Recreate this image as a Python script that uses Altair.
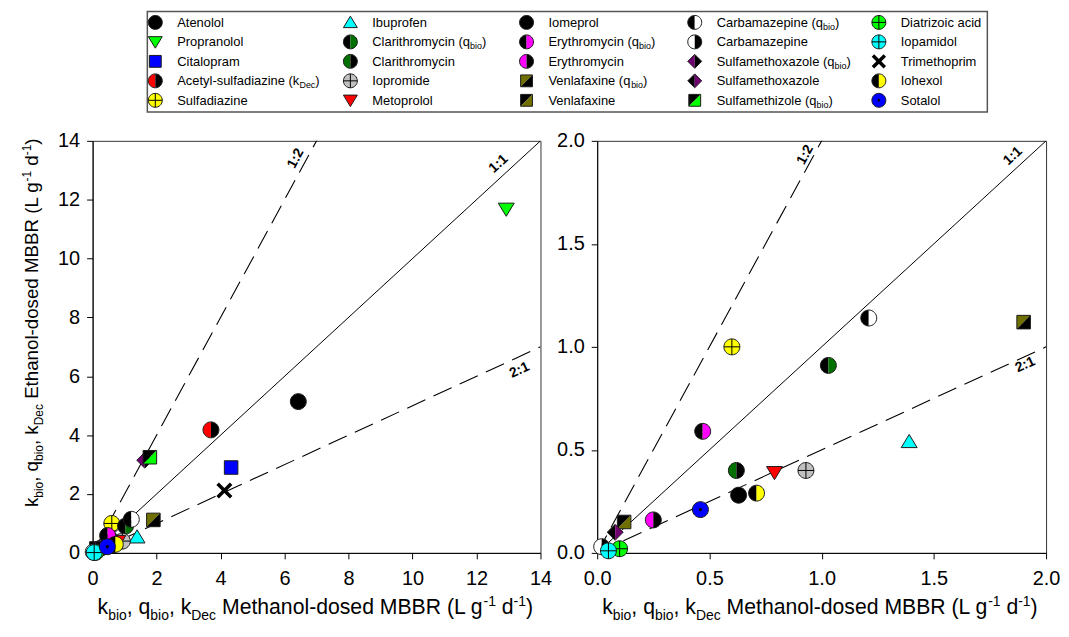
import math
import altair as alt
import pandas as pd

# ---------------- data ----------------
compounds = [
    "Atenolol", "Propranolol", "Citalopram", "Acetyl-sulfadiazine (k_Dec)", "Sulfadiazine",
    "Ibuprofen", "Clarithromycin (q_bio)", "Clarithromycin", "Iopromide", "Metoprolol",
    "Iomeprol", "Erythromycin (q_bio)", "Erythromycin", "Venlafaxine (q_bio)", "Venlafaxine",
    "Carbamazepine (q_bio)", "Carbamazepine", "Sulfamethoxazole (q_bio)", "Sulfamethoxazole",
    "Sulfamethizole (q_bio)",
    "Diatrizoic acid", "Iopamidol", "Trimethoprim", "Iohexol", "Sotalol",
]
methanol = [6.43, 12.93, 4.33, 3.70, 0.60,
            1.39, 1.03, 0.62, 0.93, 0.79,
            0.63, 0.47, 0.25, 1.90, 0.12,
            1.21, 0.02, 1.63, 0.08, 1.79,
            0.10, 0.05, 4.12, 0.71, 0.46]
ethanol = [5.14, 11.68, 2.90, 4.18, 1.00,
           0.54, 0.91, 0.40, 0.40, 0.39,
           0.28, 0.59, 0.16, 1.12, 0.15,
           1.14, 0.03, 3.15, 0.10, 3.25,
           0.02, 0.01, 2.12, 0.29, 0.21]

ratios = [2.0, 1.0, 0.5]
ratio_names = ["1:2", "1:1", "2:1"]
label_x_left = [6.35, 12.69, 13.34]
label_y_left = [13.40, 13.22, 6.21]
label_x_right = [0.927, 1.852, 1.907]
label_y_right = [1.932, 1.926, 0.913]

left_ticks = [0, 2, 4, 6, 8, 10, 12, 14]
right_ticks = [0.0, 0.5, 1.0, 1.5, 2.0]

# ---------------- styles ----------------
BLACK = "black"
GREEN = "#00FF00"
BLUE = "#0000FF"
RED = "#FF0000"
YELLOW = "#FFFF00"
CYAN = "#00FFFF"
DKGREEN = "#007000"
GRAY = "#C0C0C0"
MAGENTA = "#FF00FF"
OLIVE = "#707000"
PURPLE = "#700070"
WHITE = "#FFFFFF"

marker_style = [
    ("circle", BLACK), ("tri_down", GREEN), ("square", BLUE), ("half", RED, BLACK), ("cross", YELLOW),
    ("tri_up", CYAN), ("half", BLACK, DKGREEN), ("half", DKGREEN, BLACK), ("cross", GRAY), ("tri_down", RED),
    ("circle", BLACK), ("half", BLACK, MAGENTA), ("half", MAGENTA, BLACK), ("sq", OLIVE, BLACK), ("sq", BLACK, OLIVE),
    ("half", BLACK, WHITE), ("half", WHITE, BLACK), ("dia", PURPLE, BLACK), ("dia", BLACK, PURPLE), ("sq", BLACK, GREEN),
    ("cross", GREEN), ("cross", CYAN), ("xmark",), ("half", BLACK, YELLOW), ("dot", BLUE),
]

CIRCLE = "M-1,0A1,1 0 1,1 1,0A1,1 0 1,1 -1,0Z"
LEFT = "M0,-1A1,1 0 0,0 0,1Z"
RIGHT = "M0,-1A1,1 0 0,1 0,1Z"
CROSS = "M-1,0L1,0M0,-1L0,1"
SQUARE = "M-0.85,-0.85L0.85,-0.85L0.85,0.85L-0.85,0.85Z"
SQ_TL = "M-0.85,-0.85L0.85,-0.85L-0.85,0.85Z"
SQ_BR = "M0.85,-0.85L0.85,0.85L-0.85,0.85Z"
DIAMOND = "M0,-1L1,0L0,1L-1,0Z"
DIA_L = "M0,-1L-1,0L0,1Z"
DIA_R = "M0,-1L1,0L0,1Z"
TRI_DOWN = "M-1,-0.75L1,-0.75L0,0.9Z"
TRI_UP = "M-1,0.75L1,0.75L0,-0.9Z"
XMARK = "M-0.85,-0.85L0.85,0.85M-0.85,0.85L0.85,-0.85"
DOT = "M-0.2,0A0.2,0.2 0 1,1 0.2,0A0.2,0.2 0 1,1 -0.2,0Z"
OUT = "#1a1a1a"
NONE = "transparent"


def pieces(style):
    kind = style[0]
    if kind == "circle":
        return [(CIRCLE, style[1], OUT, 1)]
    if kind == "square":
        return [(SQUARE, style[1], OUT, 1)]
    if kind == "tri_down":
        return [(TRI_DOWN, style[1], OUT, 1)]
    if kind == "tri_up":
        return [(TRI_UP, style[1], OUT, 1)]
    if kind == "half":
        return [(LEFT, style[1], NONE, 0), (RIGHT, style[2], NONE, 0), (CIRCLE, NONE, OUT, 1)]
    if kind == "sq":
        return [(SQ_TL, style[1], NONE, 0), (SQ_BR, style[2], NONE, 0), (SQUARE, NONE, OUT, 1)]
    if kind == "dia":
        return [(DIA_L, style[1], NONE, 0), (DIA_R, style[2], NONE, 0), (DIAMOND, NONE, OUT, 1)]
    if kind == "cross":
        return [(CIRCLE, style[1], OUT, 1), (CROSS, NONE, BLACK, 1)]
    if kind == "dot":
        return [(CIRCLE, style[1], OUT, 1), (DOT, BLACK, NONE, 0)]
    if kind == "xmark":
        return [(XMARK, NONE, BLACK, 3.5)]
    return []


rows = []
for i, (name, xv, yv, st) in enumerate(zip(compounds, methanol, ethanol, marker_style)):
    for j, (path, fill, stroke, sw) in enumerate(pieces(st)):
        rows.append(dict(name=name, x=xv, y=yv, order=i * 10 + j, path=path, fill=fill,
                         stroke=stroke, sw=sw, col=i // 5, row=i % 5))
df = pd.DataFrame(rows)

# ---------------- text helpers ----------------
FONT = "Liberation Sans"
AW = {' ': 278, ',': 278, '-': 333, '(': 333, ')': 333, '.': 278, ':': 278,
      'a': 556, 'b': 556, 'c': 500, 'd': 556, 'e': 556, 'f': 278, 'g': 556, 'h': 556, 'i': 222,
      'j': 222, 'k': 500, 'l': 222, 'm': 833, 'n': 556, 'o': 556, 'p': 556, 'q': 556, 'r': 333,
      's': 500, 't': 278, 'u': 556, 'v': 500, 'w': 722, 'x': 500, 'y': 500, 'z': 500,
      'A': 667, 'B': 667, 'C': 722, 'D': 722, 'E': 667, 'F': 611, 'G': 778, 'H': 722, 'I': 278,
      'J': 500, 'K': 667, 'L': 556, 'M': 833, 'N': 722, 'O': 778, 'P': 667, 'Q': 778, 'R': 722,
      'S': 667, 'T': 611, 'U': 722, 'V': 667, 'W': 944, 'X': 667, 'Y': 667, 'Z': 611}


def tw(s, size):
    return sum(AW.get(c, 556) for c in s) * size / 1000.0


def text_piece(t, x, y, size, angle=0):
    return alt.Chart(pd.DataFrame({"t": [t]})).mark_text(
        align="left", baseline="alphabetic", font=FONT, fontSize=size, angle=angle, color="black"
    ).encode(text="t:N", x=alt.value(x), y=alt.value(y))


W_L, W_R, H = 450, 451, 414


def title_marks(word, horizontal, x0, y0, tf, ts, sub, sup):
    parts = [("k", tf, 0), ("bio", ts, sub), (", q", tf, 0), ("bio", ts, sub), (", k", tf, 0),
             ("Dec", ts, sub), (" " + word + "-dosed MBBR (L g", tf, 0), ("-1", ts, sup),
             (" d", tf, 0), ("-1", ts, sup), (")", tf, 0)]
    marks = []
    cum = 0.0
    for t, size, shift in parts:
        lead = len(t) - len(t.lstrip(" "))
        cum += lead * AW[" "] * size / 1000.0
        t2 = t.lstrip(" ")
        if horizontal:
            marks.append(text_piece(t2, x0 + cum, y0 + shift, size, 0))
        else:
            marks.append(text_piece(t2, x0 + shift, y0 - cum, size, 270))
        cum += tw(t2, size)
    return marks


def mk_axis(vals, fmt, orient):
    return alt.Axis(values=vals, format=fmt, title=None, grid=False, ticks=True, tickSize=6,
                    labelPadding=10 if orient == "x" else 7, labelFontSize=20, labelFont=FONT,
                    labelColor="black", tickColor="black", domainColor="black", labelFlush=False,
                    labelOverlap=False, tickWidth=1, domainWidth=1)


def ratio_angle(r, W, xmax, ymax):
    return 360 - math.degrees(math.atan(r * (H / ymax) / (W / xmax)))


def panel(xmax, ticks, fmt, W, lab_x, lab_y, left):
    sx = alt.Scale(domain=[0, xmax], nice=False, zero=False)
    sy = alt.Scale(domain=[0, xmax], nice=False, zero=False)
    ax = mk_axis(ticks, fmt, "x")
    ay = mk_axis(ticks, fmt, "y")
    ldf = pd.DataFrame([{"r": n, "x": xv, "y": r * xv} for r, n in zip(ratios, ratio_names)
                        for xv in (0, xmax)])
    base_line = alt.Chart(ldf).encode(x=alt.X("x:Q", scale=sx, axis=ax),
                                      y=alt.Y("y:Q", scale=sy, axis=ay), detail="r:N")
    solid = base_line.transform_filter("datum.r == '1:1'").mark_line(
        color="black", strokeWidth=1, clip=True)
    dashed = base_line.transform_filter("datum.r != '1:1'").mark_line(
        color="black", strokeWidth=1.1, strokeDash=[20, 9], clip=True)
    pts = alt.Chart(df).mark_point(filled=True, opacity=1, size=256).encode(
        x=alt.X("x:Q", scale=sx, axis=ax),
        y=alt.Y("y:Q", scale=sy, axis=ay),
        shape=alt.Shape("path:N", scale=None),
        fill=alt.Fill("fill:N", scale=None),
        stroke=alt.Stroke("stroke:N", scale=None),
        strokeWidth=alt.StrokeWidth("sw:Q", scale=None),
        order=alt.Order("order:Q"),
    )
    if not left:
        pts = pts.transform_filter(f"datum.x <= {xmax} && datum.y <= {xmax}")
    labdf = pd.DataFrame({"t": ratio_names, "x": lab_x, "y": lab_y,
                          "a": [ratio_angle(r, W, xmax, xmax) for r in ratios]})
    labs = alt.Chart(labdf).mark_text(font=FONT, fontSize=14, fontWeight="bold", align="center",
                                      baseline="middle", color="black").encode(
        x=alt.X("x:Q", scale=sx, axis=ax), y=alt.Y("y:Q", scale=sy, axis=ay),
        text="t:N", angle=alt.Angle("a:Q", scale=None))
    layers = [solid, dashed, pts, labs]
    layers += title_marks("Methanol", True, 5, H + 61, 21.3, 14, 6, -8)
    if left:
        layers += title_marks("Ethanol", False, -55, 368, 18.8, 12, 5, -7)
        anchor = alt.Chart(pd.DataFrame({"a": [0]})).mark_rule(opacity=0).encode(
            x=alt.value(-84), y=alt.value(0), y2=alt.value(10))
        layers.append(anchor)
    return alt.layer(*layers).properties(width=W, height=H)


left_panel = panel(14, left_ticks, "d", W_L, label_x_left, label_y_left, True)
right_panel = panel(2, right_ticks, ".1f", W_R, label_x_right, label_y_right, False)

# ---------------- legend ----------------
LEG_W, LEG_H = 899, 101
LEG_COLS = [63, 259, 436, 605, 790]
LEG_ROWS = [11, 89.3]
LFS, LSS, TXT_DX, TXT_DY = 13, 9, 22, 4.5

leg_x = alt.X("col:Q", scale=alt.Scale(domain=[0, 1, 2, 3, 4], range=LEG_COLS, nice=False, zero=False), axis=None)
leg_y = alt.Y("row:Q", scale=alt.Scale(domain=[0, 4], range=LEG_ROWS, nice=False, zero=False), axis=None)


def split_label(name):
    if "_" in name:
        pre, rest = name.split("_")
        return pre, rest.rstrip(")"), ")"
    return name, "", ""


leg_rows = []
for i, name in enumerate(compounds):
    pre, sub, tail = split_label(name)
    leg_rows.append(dict(col=i // 5, row=i % 5, base=pre, sub=sub, tail=tail))
leg_df = pd.DataFrame(leg_rows)

box = alt.Chart(pd.DataFrame({"a": [0]})).mark_rect(
    fill="transparent", stroke="#555555", strokeWidth=1.5).encode(
    x=alt.value(55), x2=alt.value(LEG_W), y=alt.value(0), y2=alt.value(LEG_H))
leg_pts = alt.Chart(df).mark_point(filled=True, opacity=1, size=196).encode(
    x=leg_x, y=leg_y,
    shape=alt.Shape("path:N", scale=None),
    fill=alt.Fill("fill:N", scale=None),
    stroke=alt.Stroke("stroke:N", scale=None),
    strokeWidth=alt.StrokeWidth("sw:Q", scale=None),
    order=alt.Order("order:Q"),
)
leg_txt = alt.Chart(leg_df).mark_text(align="left", baseline="alphabetic", dx=TXT_DX, dy=TXT_DY,
                                      font=FONT, fontSize=LFS, color="black").encode(
    x=leg_x, y=leg_y, text="base:N")
leg_layers = [box, leg_pts, leg_txt]
for r in leg_rows:
    if r["sub"]:
        wb = tw(r["base"], LFS)
        ws = tw(r["sub"], LSS)
        one = pd.DataFrame([dict(col=r["col"], row=r["row"], s=r["sub"], t=r["tail"])])
        leg_layers.append(alt.Chart(one).mark_text(
            align="left", baseline="alphabetic", dx=TXT_DX + wb, dy=TXT_DY + 3, font=FONT,
            fontSize=LSS, color="black").encode(x=leg_x, y=leg_y, text="s:N"))
        leg_layers.append(alt.Chart(one).mark_text(
            align="left", baseline="alphabetic", dx=TXT_DX + wb + ws, dy=TXT_DY, font=FONT,
            fontSize=LFS, color="black").encode(x=leg_x, y=leg_y, text="t:N"))

legend = alt.layer(*leg_layers).properties(
    width=LEG_W, height=LEG_H, view=alt.ViewBackground(stroke="transparent"))

plots = alt.hconcat(left_panel, right_panel, spacing=57, bounds="flush")
chart = alt.vconcat(legend, plots, spacing=29, bounds="flush").properties(
    padding={"left": 0, "top": 0, "right": 0, "bottom": 0}
).configure_view(stroke="#333333", strokeWidth=1)

chart.save("out.html", embed_options={"renderer": "svg", "actions": False})
